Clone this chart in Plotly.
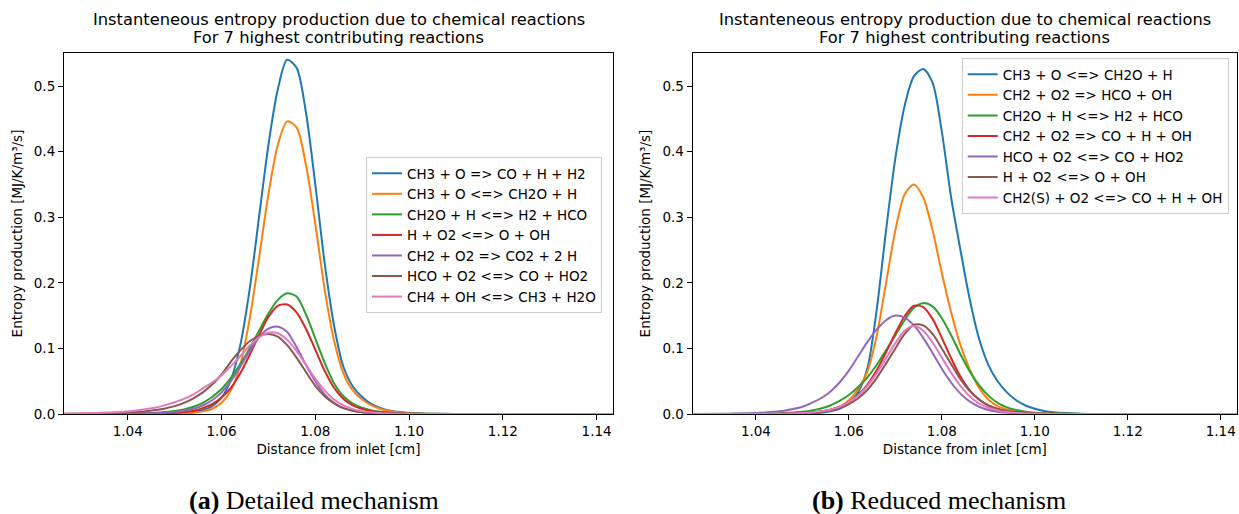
import plotly.graph_objects as go

# ---------------- data ----------------
x_cm = [1.026, 1.032, 1.036, 1.040, 1.042, 1.044, 1.046, 1.048, 1.050, 1.052,
        1.054, 1.056, 1.058, 1.060, 1.062, 1.064, 1.066, 1.068, 1.070, 1.072,
        1.074, 1.076, 1.078, 1.080, 1.082, 1.084, 1.086, 1.088, 1.090, 1.092,
        1.094, 1.096, 1.098, 1.100, 1.102, 1.104, 1.110, 1.120, 1.130, 1.144]

# (a) Detailed mechanism
det_labels = ["CH3 + O => CO + H + H2", "CH3 + O <=> CH2O + H", "CH2O + H <=> H2 + HCO",
              "H + O2 <=> O + OH", "CH2 + O2 => CO2 + 2 H", "HCO + O2 <=> CO + HO2",
              "CH4 + OH <=> CH3 + H2O"]
det_1 = [0, 0, 0, 0, 0, 0, 0.0002, 0.0004, 0.0008, 0.0015,
         0.003, 0.006, 0.012, 0.025, 0.052, 0.105, 0.19, 0.30, 0.41, 0.495,
         0.540, 0.528, 0.46, 0.35, 0.23, 0.135, 0.072, 0.042, 0.026, 0.015,
         0.009, 0.005, 0.003, 0.0017, 0.001, 0.0005, 0.0001, 0, 0, 0]
det_2 = [0, 0, 0, 0, 0, 0, 0.0001, 0.0003, 0.0006, 0.001,
         0.002, 0.004, 0.008, 0.017, 0.036, 0.075, 0.145, 0.238, 0.335, 0.41,
         0.446, 0.437, 0.38, 0.29, 0.19, 0.112, 0.062, 0.036, 0.022, 0.013,
         0.0075, 0.0042, 0.0024, 0.0013, 0.0007, 0.0003, 0.0001, 0, 0, 0]
det_3 = [0, 0.0001, 0.0003, 0.0005, 0.0008, 0.0012, 0.002, 0.003, 0.0045, 0.007,
         0.011, 0.017, 0.026, 0.038, 0.055, 0.076, 0.10, 0.127, 0.153, 0.174,
         0.184, 0.179, 0.152, 0.115, 0.078, 0.047, 0.027, 0.016, 0.0095, 0.0055,
         0.0033, 0.002, 0.0012, 0.0007, 0.0004, 0.0002, 0.0001, 0, 0, 0]
det_4 = [0, 0, 0, 0.0001, 0.0002, 0.0003, 0.0005, 0.001, 0.0017, 0.003,
         0.005, 0.009, 0.015, 0.025, 0.04, 0.062, 0.09, 0.12, 0.148, 0.165,
         0.167, 0.155, 0.13, 0.098, 0.066, 0.04, 0.023, 0.013, 0.0075, 0.0043,
         0.0025, 0.0014, 0.0008, 0.0005, 0.0003, 0.0001, 0, 0, 0, 0]
det_5 = [0, 0.0001, 0.0002, 0.0003, 0.0005, 0.0008, 0.0013, 0.002, 0.0033, 0.005,
         0.008, 0.013, 0.021, 0.033, 0.05, 0.072, 0.096, 0.117, 0.13, 0.133,
         0.125, 0.102, 0.075, 0.05, 0.03, 0.017, 0.009, 0.005, 0.0027, 0.0015,
         0.0008, 0.0004, 0.0002, 0.0001, 0, 0, 0, 0, 0, 0]
det_6 = [0.0002, 0.0006, 0.0012, 0.0022, 0.003, 0.0042, 0.006, 0.0085, 0.012, 0.017,
         0.024, 0.033, 0.045, 0.06, 0.08, 0.097, 0.111, 0.119, 0.122, 0.118,
         0.105, 0.086, 0.064, 0.043, 0.027, 0.016, 0.009, 0.005, 0.0027, 0.0015,
         0.0008, 0.0004, 0.0002, 0.0001, 0, 0, 0, 0, 0, 0]
det_7 = [0.0005, 0.0012, 0.0022, 0.004, 0.0055, 0.0075, 0.010, 0.0135, 0.018, 0.023,
         0.03, 0.039, 0.048, 0.059, 0.073, 0.088, 0.104, 0.117, 0.124, 0.123,
         0.113, 0.096, 0.075, 0.054, 0.036, 0.022, 0.013, 0.0075, 0.004, 0.0022,
         0.0012, 0.0006, 0.0003, 0.0002, 0.0001, 0, 0, 0, 0, 0]

# (b) Reduced mechanism
red_labels = ["CH3 + O <=> CH2O + H", "CH2 + O2 => HCO + OH", "CH2O + H <=> H2 + HCO",
              "CH2 + O2 => CO + H + OH", "HCO + O2 <=> CO + HO2", "H + O2 <=> O + OH",
              "CH2(S) + O2 <=> CO + H + OH"]
red_1 = [0, 0, 0, 0, 0, 0, 0, 0, 0.0005, 0.001,
         0.002, 0.004, 0.008, 0.016, 0.033, 0.07, 0.16, 0.28, 0.39, 0.47,
         0.515, 0.526, 0.505, 0.43, 0.33, 0.25, 0.175, 0.115, 0.075, 0.05,
         0.033, 0.021, 0.013, 0.008, 0.0045, 0.0025, 0.0004, 0, 0, 0]
red_2 = [0, 0, 0, 0, 0, 0, 0.0003, 0.0006, 0.001, 0.002,
         0.0035, 0.006, 0.011, 0.021, 0.038, 0.065, 0.12, 0.2, 0.28, 0.335,
         0.35, 0.33, 0.28, 0.215, 0.155, 0.105, 0.068, 0.04, 0.022, 0.012,
         0.007, 0.004, 0.0022, 0.0012, 0.0006, 0.0003, 0.0001, 0, 0, 0]
red_3 = [0, 0.0001, 0.0002, 0.0004, 0.0007, 0.001, 0.0015, 0.0023, 0.0035, 0.0055,
         0.0085, 0.013, 0.02, 0.029, 0.041, 0.056, 0.075, 0.097, 0.12, 0.143,
         0.162, 0.169, 0.164, 0.146, 0.12, 0.091, 0.065, 0.044, 0.028, 0.017,
         0.01, 0.006, 0.0035, 0.002, 0.0011, 0.0006, 0.0001, 0, 0, 0]
red_4 = [0, 0, 0, 0.0001, 0.0002, 0.0003, 0.0005, 0.0009, 0.0015, 0.0025,
         0.004, 0.0065, 0.011, 0.018, 0.029, 0.045, 0.067, 0.094, 0.123, 0.149,
         0.165, 0.163, 0.145, 0.116, 0.085, 0.057, 0.036, 0.022, 0.013, 0.0075,
         0.0043, 0.0025, 0.0014, 0.0008, 0.0004, 0.0002, 0, 0, 0, 0]
red_5 = [0.0001, 0.0004, 0.0008, 0.0015, 0.0023, 0.0034, 0.005, 0.0075, 0.011, 0.017,
         0.024, 0.034, 0.048, 0.066, 0.088, 0.11, 0.129, 0.143, 0.15, 0.147,
         0.135, 0.116, 0.093, 0.069, 0.048, 0.031, 0.019, 0.011, 0.006, 0.0033,
         0.0018, 0.001, 0.0005, 0.0003, 0.0001, 0, 0, 0, 0, 0]
red_6 = [0, 0, 0, 0.0001, 0.0002, 0.0003, 0.0005, 0.0008, 0.0013, 0.002,
         0.0033, 0.0055, 0.009, 0.015, 0.024, 0.037, 0.055, 0.077, 0.1, 0.122,
         0.136, 0.135, 0.122, 0.1, 0.076, 0.053, 0.035, 0.022, 0.013, 0.0075,
         0.0043, 0.0025, 0.0014, 0.0008, 0.0004, 0.0002, 0, 0, 0, 0]
red_7 = [0, 0, 0, 0.0001, 0.0002, 0.0003, 0.0005, 0.0009, 0.0015, 0.0024,
         0.004, 0.0065, 0.011, 0.018, 0.028, 0.043, 0.062, 0.085, 0.108, 0.127,
         0.134, 0.127, 0.109, 0.086, 0.063, 0.043, 0.027, 0.016, 0.0095, 0.0055,
         0.003, 0.0017, 0.0009, 0.0005, 0.0002, 0.0001, 0, 0, 0, 0]

x_ticks = [1.04, 1.06, 1.08, 1.10, 1.12, 1.14]
y_ticks = [0.0, 0.1, 0.2, 0.3, 0.4, 0.5]

colors = ["#1f77b4", "#ff7f0e", "#2ca02c", "#d62728", "#9467bd", "#8c564b", "#e377c2"]

title_lines = ["Instanteneous entropy production due to chemical reactions",
               "For 7 highest contributing reactions"]
xlabel = "Distance from inlet [cm]"
ylabel = "Entropy production [MJ/K/m³/s]"
captions = ["<b>(a)</b> Detailed mechanism", "<b>(b)</b> Reduced mechanism"]

# ---------------- figure ----------------
FONT = "DejaVu Sans"
fig = go.Figure()

for lab, ys, col in zip(det_labels, [det_1, det_2, det_3, det_4, det_5, det_6, det_7], colors):
    fig.add_trace(go.Scatter(x=x_cm, y=ys, mode="lines", name=lab,
                             line=dict(color=col, width=2, shape="spline", smoothing=0.8),
                             xaxis="x", yaxis="y", legend="legend"))
for lab, ys, col in zip(red_labels, [red_1, red_2, red_3, red_4, red_5, red_6, red_7], colors):
    fig.add_trace(go.Scatter(x=x_cm, y=ys, mode="lines", name=lab,
                             line=dict(color=col, width=2, shape="spline", smoothing=0.8),
                             xaxis="x2", yaxis="y2", legend="legend2"))

W, H = 1239, 514
ML, MR, MT, MB = 64, 2, 53, 100
PW, PH = W - ML - MR, H - MT - MB


def px2x(px):
    return (px - ML) / PW


def py2y(py):
    return (H - MB - py) / PH


tick_font = dict(family=FONT, size=13.5, color="#000")
common_x = dict(range=[1.0264, 1.1435], tickvals=x_ticks, tickformat=".2f",
                showline=True, mirror=True, linecolor="#000", linewidth=1.1,
                ticks="outside", ticklen=5, tickwidth=1.1, tickcolor="#000",
                showgrid=False, zeroline=False, tickfont=tick_font,
                title=dict(text=xlabel, font=tick_font, standoff=6))
common_y = dict(range=[0, 0.5503], tickvals=y_ticks, tickformat=".1f",
                showline=True, mirror=True, linecolor="#000", linewidth=1.1,
                ticks="outside", ticklen=5, tickwidth=1.1, tickcolor="#000",
                showgrid=False, zeroline=False, tickfont=tick_font,
                title=dict(text=ylabel, font=tick_font, standoff=8))

dom_a = [0, px2x(613)]
dom_b = [px2x(692.7), 1.0]

legend_common = dict(xanchor="left", yanchor="top", bgcolor="rgba(255,255,255,0.8)",
                     bordercolor="#cccccc", borderwidth=1,
                     font=dict(family=FONT, size=13.5, color="#000"), itemwidth=30,
                     traceorder="normal")

fig.update_layout(
    width=W, height=H,
    margin=dict(l=ML, r=MR, t=MT, b=MB),
    paper_bgcolor="white", plot_bgcolor="white",
    font=dict(family=FONT, color="#000"),
    xaxis=dict(domain=dom_a, anchor="y", **common_x),
    yaxis=dict(domain=[0, 1], anchor="x", **common_y),
    xaxis2=dict(domain=dom_b, anchor="y2", **common_x),
    yaxis2=dict(domain=[0, 1], anchor="x2", **common_y),
    legend=dict(x=px2x(366), y=py2y(157), **legend_common),
    legend2=dict(x=px2x(961.7), y=py2y(58), **legend_common),
    showlegend=True,
)

for dom, cap, cap_px in zip([dom_a, dom_b], captions, [313.5, 939]):
    for line_text, line_py in zip(title_lines, [20, 38]):
        fig.add_annotation(text=line_text, xref="paper", yref="paper",
                           x=(dom[0] + dom[1]) / 2, y=py2y(line_py),
                           xanchor="center", yanchor="middle", showarrow=False,
                           font=dict(family=FONT, size=16.3, color="#000"))
    fig.add_annotation(text=cap, xref="paper", yref="paper",
                       x=px2x(cap_px), y=py2y(500), xanchor="center", yanchor="middle",
                       showarrow=False,
                       font=dict(family="Liberation Serif", size=26, color="#000"))

fig.write_html("out.html", config={"displayModeBar": False},
               post_script="document.body.style.margin='0';document.body.style.overflow='hidden';")
